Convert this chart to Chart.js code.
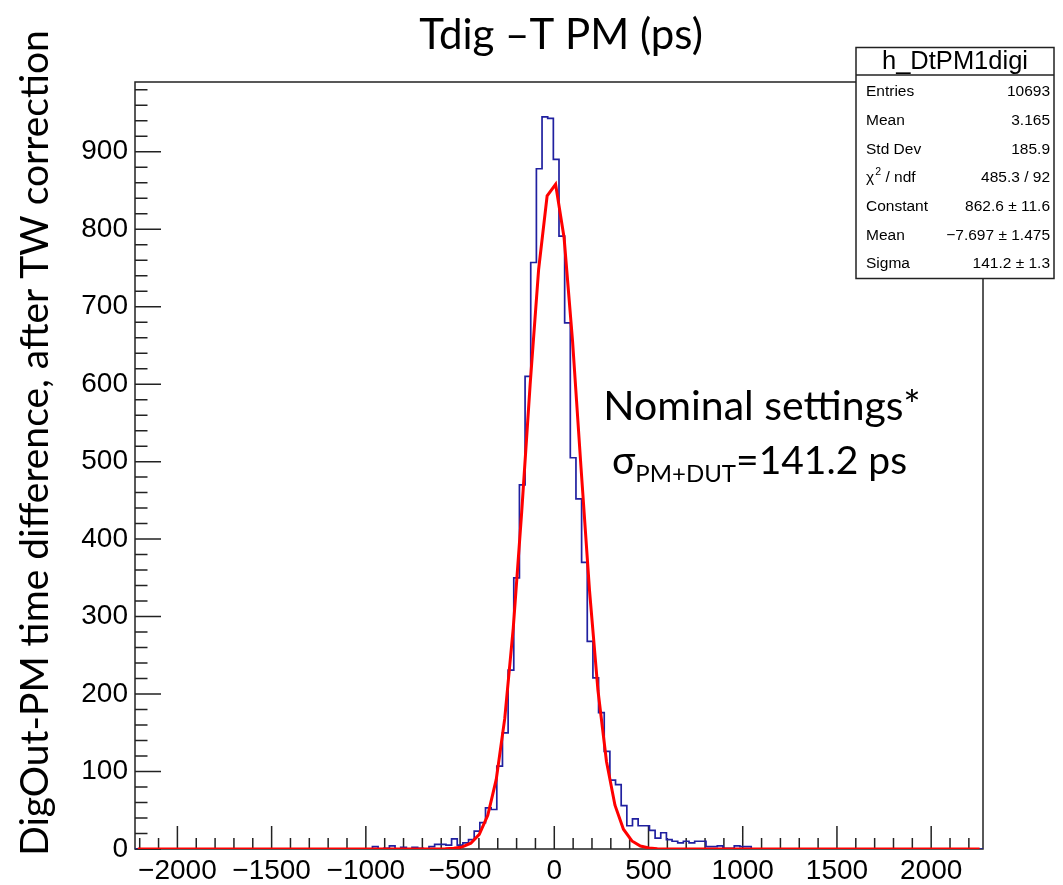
<!DOCTYPE html>
<html>
<head>
<meta charset="utf-8">
<script src="https://cdn.jsdelivr.net/npm/chart.js@4.4.1/dist/chart.umd.min.js"></script>
<style>
body { margin: 0; background: #fff; }
#wrap { width: 1063px; height: 885px; }
</style>
</head>
<body>
<div id="wrap"><canvas id="myChart" width="1063" height="885"></canvas></div>
<script>
// histogram h_DtPM1digi: 150 bins of 30 ps starting at -2225
var bin_min = -2225;
var bin_width = 30;
var counts = [
    0, 0, 0, 0, 0, 0, 0, 0, 0, 0,
    0, 0, 0, 0, 0, 0, 0, 0, 0, 0,
    0, 0, 0, 0, 0, 0, 0, 0, 0, 0,
    0, 0, 0, 0, 0, 0, 0, 0, 0, 0,
    0, 0, 3, 0, 1, 4, 0, 2, 0, 2,
    1, 0, 3, 6, 6, 5, 13, 5, 8, 12,
    23, 34, 53, 51, 107, 150, 231, 350, 470, 610,
    757, 878, 945, 943, 890, 791, 679, 505, 452, 370,
    268, 221, 176, 126, 89, 83, 56, 30, 39, 30,
    30, 24, 14, 21, 12, 10, 8, 10, 8, 10,
    10, 3, 3, 4, 1, 1, 4, 3, 3, 0,
    0, 0, 0, 0, 0, 0, 0, 0, 0, 0,
    0, 0, 0, 0, 0, 0, 0, 0, 0, 0,
    0, 0, 0, 0, 0, 0, 0, 0, 0, 0,
    0, 0, 0, 0, 0, 0, 0, 0, 0, 0
];

// red gaussian fit
var fit_x = [-2210, -623, -578, -533, -488, -443, -398, -353, -308, -263, -218, -173, -128, -83, -38,
    7, 52, 97, 142, 187, 232, 277, 322, 367, 412, 457, 502, 547, 592, 637, 2257];
var fit_y = [0, 0.1, 0.2, 0.9, 2.7, 7.5, 18.9, 43.4, 89.9, 168.2, 284.5, 434.7, 600.0, 748.3, 843.0,
    858.0, 788.9, 655.2, 491.8, 333.4, 204.2, 113.0, 56.5, 25.5, 10.4, 3.8, 1.3, 0.4, 0.1, 0, 0];

var ticks_x = [-2000, -1500, -1000, -500, 0, 500, 1000, 1500, 2000];
var ticks_y = [0, 100, 200, 300, 400, 500, 600, 700, 800, 900];
var minor_x = 100;
var minor_y = 20;

var stats_names = ['Entries', 'Mean', 'Std Dev', 'chi2', 'Constant', 'Mean', 'Sigma'];
var stats_values = ['10693', '3.165', '185.9', '485.3 / 92', '862.6 \u00b1 11.6', '\u22127.697 \u00b1 1.475', '141.2 \u00b1 1.3'];

var ctx = document.getElementById("myChart").getContext('2d');

function hist_points() {
    var pts = [];
    for (var i = 0; i < counts.length; i++) {
        pts.push({ x: bin_min + i * bin_width, y: counts[i] });
    }
    pts.push({ x: bin_min + counts.length * bin_width, y: counts[counts.length - 1] });
    return pts;
}

function fit_points() {
    var pts = [];
    for (var i = 0; i < fit_x.length; i++) {
        pts.push({ x: fit_x[i], y: fit_y[i] });
    }
    return pts;
}

function label_num(v) {
    return v < 0 ? '\u2212' + Math.abs(v) : '' + v;
}

// ROOT style frame with inward ticks
var frame_plugin = {
    id: 'frame',
    beforeDatasetsDraw: function (chart) {
        var c = chart.ctx;
        var a = chart.chartArea;
        var sx = chart.scales.x;
        var sy = chart.scales.y;
        c.save();
        c.strokeStyle = '#222';
        c.lineWidth = 1.5;
        c.strokeRect(a.left, a.top, a.right - a.left, a.bottom - a.top);
        c.beginPath();
        for (var v = -2200; v <= 2200; v += minor_x) {
            var px = sx.getPixelForValue(v);
            var len = (v % 500 === 0) ? 23 : 11;
            c.moveTo(px, a.bottom);
            c.lineTo(px, a.bottom - len);
        }
        for (var w = 0; w <= 980; w += minor_y) {
            var py = sy.getPixelForValue(w);
            var len2 = (w % 100 === 0) ? 26 : 12.5;
            c.moveTo(a.left, py);
            c.lineTo(a.left + len2, py);
        }
        c.stroke();
        c.restore();
    },
    afterDraw: function (chart) {
        var c = chart.ctx;
        c.save();
        c.fillStyle = '#000';
        c.textBaseline = 'middle';

        // title
        c.font = '42px Lato';
        c.textAlign = 'center';
        c.fillText('Tdig \u2013T PM (ps)', 561, 35);

        // y axis title
        c.save();
        c.translate(35, 443);
        c.rotate(-Math.PI / 2);
        c.font = '39px Lato';
        c.fillText('DigOut-PM time difference, after TW correction', 0, 0);
        c.restore();

        // annotation
        c.font = '41px Lato';
        c.textAlign = 'center';
        c.fillText('Nominal settings*', 762, 407);
        c.textAlign = 'left';
        c.textBaseline = 'alphabetic';
        var x0 = 612;
        c.font = '39px Lato';
        c.fillText('\u03c3', x0, 474);
        x0 += c.measureText('\u03c3').width;
        c.font = '24px Lato';
        c.fillText('PM+DUT', x0, 482);
        x0 += c.measureText('PM+DUT').width;
        c.font = '39px Lato';
        c.fillText('=141.2 ps', x0, 474);

        // stat box
        var bx = 856, by = 47.5, bw = 198, bh = 231;
        c.fillStyle = '#fff';
        c.fillRect(bx, by, bw, bh);
        c.strokeStyle = '#222';
        c.lineWidth = 1.5;
        c.strokeRect(bx, by, bw, bh);
        c.beginPath();
        c.moveTo(bx, 75);
        c.lineTo(bx + bw, 75);
        c.stroke();
        c.fillStyle = '#000';
        c.textBaseline = 'middle';
        c.textAlign = 'center';
        c.font = '25.5px "Liberation Sans"';
        c.fillText('h_DtPM1digi', bx + bw / 2, 62);
        c.font = '15.5px "Liberation Sans"';
        for (var i = 0; i < stats_names.length; i++) {
            var ry = 92 + i * 28.7;
            c.textAlign = 'left';
            if (stats_names[i] === 'chi2') {
                c.fillText('\u03c7', 866, ry);
                var wchi = c.measureText('\u03c7').width;
                c.font = '10.5px "Liberation Sans"';
                c.fillText('2', 866 + wchi + 1, ry - 6);
                c.font = '15.5px "Liberation Sans"';
                c.fillText(' / ndf', 866 + wchi + 7, ry);
            } else {
                c.fillText(stats_names[i], 866, ry);
            }
            c.textAlign = 'right';
            c.fillText(stats_values[i], 1050, ry);
        }
        c.restore();
    }
};

var grafico = new Chart(ctx, {
    type: 'line',
    data: {
        datasets: [{
            label: 'gaus',
            data: fit_points(),
            borderColor: '#ff0000',
            borderWidth: 3,
            tension: 0,
            pointRadius: 0,
            fill: false
        }, {
            label: 'h_DtPM1digi',
            data: hist_points(),
            borderColor: '#2020a0',
            borderWidth: 1.7,
            stepped: 'before',
            pointRadius: 0,
            fill: false
        }]
    },
    options: {
        responsive: false,
        animation: false,
        events: [],
        layout: {
            padding: { left: 0, right: 80, top: 82, bottom: 0 }
        },
        plugins: {
            legend: { display: false },
            tooltip: { enabled: false },
            title: { display: false }
        },
        scales: {
            x: {
                type: 'linear',
                min: -2225,
                max: 2275,
                afterBuildTicks: function (scale) {
                    scale.ticks = ticks_x.map(function (v) { return { value: v }; });
                },
                afterFit: function (scale) { scale.height = 36; },
                grid: { display: false, drawTicks: false },
                border: { display: false },
                ticks: {
                    autoSkip: false,
                    maxRotation: 0,
                    minRotation: 0,
                    padding: 5,
                    color: '#000',
                    font: { family: 'Liberation Sans', size: 28 },
                    callback: function (v) { return label_num(v); }
                }
            },
            y: {
                type: 'linear',
                min: 0,
                max: 990,
                afterBuildTicks: function (scale) {
                    scale.ticks = ticks_y.map(function (v) { return { value: v }; });
                },
                afterFit: function (scale) { scale.width = 135; },
                grid: { display: false, drawTicks: false },
                border: { display: false },
                ticks: {
                    autoSkip: false,
                    padding: 7,
                    color: '#000',
                    font: { family: 'Liberation Sans', size: 28 },
                    callback: function (v) { return label_num(v); }
                }
            }
        }
    },
    plugins: [frame_plugin]
});
</script>
</body>
</html>
